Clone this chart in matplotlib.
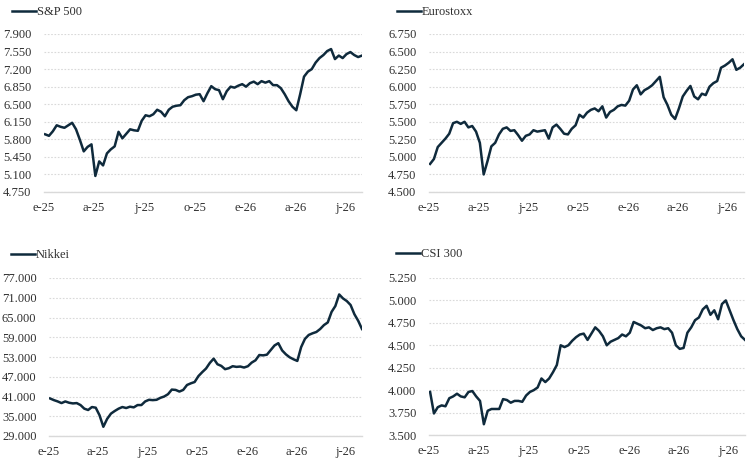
import matplotlib
matplotlib.use("Agg")
import matplotlib.pyplot as plt
from matplotlib.ticker import FuncFormatter
import pandas as pd
import numpy as np

# weekly closes (Fridays, 3 Jan 2025 - 31 Jul 2026)
dates = pd.date_range("2025-01-03", periods=83, freq="7D")

sp500 = [5900, 5870, 5960, 6080, 6050, 6030, 6080, 6130, 6000, 5790,
         5560, 5650, 5700, 5070, 5360, 5280, 5520, 5600, 5660, 5950,
         5820, 5910, 6000, 5980, 5970, 6170, 6280, 6260, 6300, 6390,
         6350, 6260, 6390, 6450, 6470, 6480, 6580, 6640, 6660, 6690,
         6700, 6560, 6720, 6860, 6800, 6780, 6600, 6760, 6850, 6830,
         6870, 6900, 6850, 6920, 6950, 6900, 6960, 6930, 6960, 6880,
         6880, 6820, 6700, 6560, 6450, 6380, 6700, 7050, 7150, 7200,
         7330, 7420, 7480, 7560, 7600, 7400, 7470, 7420, 7500, 7540,
         7480, 7440, 7470]

eurostoxx = [4900, 4970, 5140, 5200, 5260, 5330, 5480, 5500, 5470, 5500,
             5420, 5440, 5360, 5200, 4750, 4940, 5150, 5200, 5320, 5400,
             5420, 5370, 5380, 5310, 5230, 5300, 5320, 5380, 5360, 5370,
             5380, 5260, 5420, 5460, 5400, 5330, 5320, 5400, 5450, 5600,
             5560, 5630, 5670, 5690, 5650, 5720, 5560, 5640, 5670, 5720,
             5740, 5730, 5800, 5960, 6020, 5890, 5950, 5980, 6020, 6080,
             6140, 5850, 5740, 5600, 5540, 5690, 5860, 5940, 6010, 5860,
             5820, 5900, 5880, 6000, 6050, 6080, 6270, 6300, 6340, 6390,
             6240, 6270, 6320]

nikkei = [40400, 39900, 39500, 39000, 39500, 39100, 38900, 39000, 38400, 37300,
          36900, 37800, 37600, 35300, 31800, 34200, 35800, 36600, 37300, 37800,
          37500, 37900, 37700, 38400, 38400, 39500, 40000, 39900, 40000, 40600,
          41000, 41700, 43100, 43000, 42500, 43000, 44500, 45000, 45400, 47200,
          48400, 49500, 51200, 52500, 50800, 50300, 49300, 49600, 50200, 50000,
          50100, 49800, 50200, 51300, 52000, 53600, 53500, 53700, 55100, 56500,
          57200, 55000, 53800, 52900, 52300, 51800, 56000, 58500, 59700, 60200,
          60600, 61500, 62700, 63500, 66700, 68500, 72000, 70800, 70000, 68800,
          66000, 64000, 61500]

csi300 = [3980, 3740, 3810, 3830, 3820, 3910, 3930, 3960, 3930, 3920,
          3980, 3990, 3930, 3880, 3620, 3770, 3790, 3790, 3790, 3900,
          3890, 3860, 3880, 3880, 3870, 3940, 3980, 4000, 4030, 4130,
          4090, 4130, 4200, 4280, 4500, 4480, 4500, 4550, 4590, 4620,
          4630, 4560, 4630, 4700, 4660, 4600, 4500, 4540, 4560, 4580,
          4620, 4600, 4640, 4760, 4740, 4720, 4690, 4700, 4670, 4690,
          4700, 4680, 4690, 4640, 4500, 4460, 4470, 4640, 4700, 4780,
          4810, 4900, 4940, 4840, 4890, 4790, 4960, 5000, 4890, 4780,
          4680, 4600, 4560]

tick_dates = pd.to_datetime(["2025-01-01", "2025-04-01", "2025-07-01", "2025-10-01",
                             "2026-01-01", "2026-04-01", "2026-07-01"])
tick_labels = ["e-25", "a-25", "j-25", "o-25", "e-26", "a-26", "j-26"]

# name, series, y ticks, axes box in px (left, right, top, bottom), legend anchor px
panels = [
    ("S&P 500", sp500, np.arange(4750, 7901, 350), [44, 362, 34, 192], [12, 12]),
    ("Eurostoxx", eurostoxx, np.arange(4500, 6751, 250), [429, 744, 34, 192], [397, 12]),
    ("Nikkei", nikkei, np.arange(29000, 77001, 6000), [49, 362, 278, 436], [11, 255]),
    ("CSI 300", csi300, np.arange(3500, 5251, 250), [429, 745, 278, 435], [396, 254]),
]

W, H = 752, 467
navy = "#0f2a3c"
grid_c = "#d9d9d9"
text_c = "#303030"
fs = 9
plt.rcParams["font.family"] = ["Liberation Serif", "DejaVu Serif"]

fig = plt.figure(figsize=(W / 100, H / 100), dpi=100)
thousands = FuncFormatter(lambda v, p: f"{v:,.0f}".replace(",", "."))

for name, vals, yt, box, leg in panels:
    x0, x1, ytop, ybot = box
    ax = fig.add_axes([x0 / W, 1 - ybot / H, (x1 - x0) / W, (ybot - ytop) / H])
    ax.plot(dates, vals, color=navy, lw=1.8, label=name)
    ax.set_ylim(yt[0], yt[-1])
    ax.set_yticks(yt)
    ax.yaxis.set_major_formatter(thousands)
    ax.set_xlim(pd.Timestamp("2025-01-01"), pd.Timestamp("2026-07-31"))
    ax.set_xticks(tick_dates)
    ax.set_xticklabels(tick_labels)
    ax.grid(axis="y", color=grid_c, linestyle=(0, (1.5, 1.5)), lw=0.8)
    ax.set_axisbelow(True)
    for s in ["top", "right", "left"]:
        ax.spines[s].set_visible(False)
    ax.spines["bottom"].set_color(grid_c)
    ax.spines["bottom"].set_linewidth(1.0)
    ax.tick_params(length=0, colors=text_c, labelsize=fs)
    ax.tick_params(axis="y", pad=9)
    ax.tick_params(axis="x", pad=7)
    ax.legend(loc="center left", bbox_to_anchor=(leg[0] / W, 1 - leg[1] / H),
              bbox_transform=fig.transFigure, frameon=False, handlelength=1.9,
              handletextpad=0.1, borderpad=0, borderaxespad=0, fontsize=fs,
              labelcolor=text_c)

fig.savefig("out.png", dpi=100)
